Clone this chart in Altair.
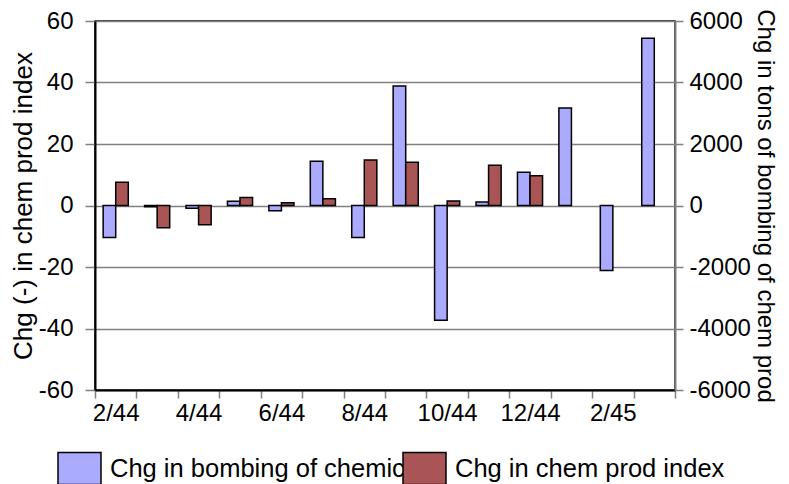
import altair as alt
import pandas as pd

months = ["2/44", "3/44", "4/44", "5/44", "6/44", "7/44", "8/44", "9/44",
          "10/44", "11/44", "12/44", "1/45", "2/45", "3/45"]
shown_labels = ["2/44", "4/44", "6/44", "8/44", "10/44", "12/44", "2/45"]
bombing_tons = [-1040, -40, -90, 140, -170, 1440, -1040, 3890,
                -3730, 110, 1080, 3170, -2110, 5440]
chem_index = [7.6, -7.2, -6.3, 2.6, 0.9, 2.2, 14.8, 14.1,
              1.5, 13.1, 9.7, None, None, None]

s_bomb = "Chg in bombing of chemicals"
s_chem = "Chg in chem prod index"
series = [s_bomb, s_chem]
colors = ["#AAAAFF", "#AA5555"]
left_ticks = [-60, -40, -20, 0, 20, 40, 60]
right_ticks = [-6000, -4000, -2000, 0, 2000, 4000, 6000]

rows = []
for m, v in zip(months, bombing_tons):
    rows.append({"month": m, "series": s_bomb, "value": v})
for m, v in zip(months, chem_index):
    if v is not None:
        rows.append({"month": m, "series": s_chem, "value": v})
df = pd.DataFrame(rows)

FONT = "Liberation Sans"
label_list = "[" + ",".join("'" + s + "'" for s in shown_labels) + "]"
RECT = "M-1,-0.74H1V0.74H-1Z"

x_enc = alt.X(
    "month:N", sort=months,
    scale=alt.Scale(paddingInner=0, paddingOuter=0),
    axis=alt.Axis(
        title=None, labelAngle=0, tickBand="extent",
        labelExpr="indexof(" + label_list + ", datum.value) >= 0 ? datum.value : ''",
        labelFont=FONT, labelFontSize=24, labelColor="black", labelPadding=3,
        tickSize=8, tickColor="#808080", tickWidth=1.5,
        domainColor="black", domainWidth=2, grid=False,
    ),
)
xoff = alt.XOffset("series:N", sort=series,
                   scale=alt.Scale(domain=series, paddingOuter=0.65, paddingInner=0))


def legend_at(x):
    return alt.Legend(
        title=None, orient="none", legendX=x, legendY=425,
        direction="horizontal", symbolType=RECT, symbolSize=1849,
        symbolStrokeColor="black", symbolStrokeWidth=1.5,
        labelFont=FONT, labelFontSize=25.5, labelColor="black",
        labelOffset=8, padding=0, labelLimit=500,
    )


base = alt.Chart(df)

bomb = base.transform_filter(alt.datum.series == s_bomb).mark_bar(
    stroke="black", strokeWidth=1.5
).encode(
    x=x_enc, xOffset=xoff,
    color=alt.Color("series:N", scale=alt.Scale(domain=[s_bomb], range=[colors[0]]),
                    legend=legend_at(-38)),
    y=alt.Y("value:Q",
            scale=alt.Scale(domain=[-6000, 6000], nice=False, zero=False),
            axis=alt.Axis(orient="right", title="Chg in tons of bombing of chem prod",
                          values=right_ticks, grid=False, labelExpr="'' + datum.value",
                          labelFont=FONT, labelFontSize=24, labelColor="black",
                          labelPadding=6, tickSize=8, tickColor="#808080", tickWidth=1.5,
                          domainColor="#808080", domainWidth=2,
                          titleFont=FONT, titleFontSize=24, titleFontWeight="normal",
                          titleColor="black", titlePadding=2)),
)

chem = base.transform_filter(alt.datum.series == s_chem).mark_bar(
    stroke="black", strokeWidth=1.5
).encode(
    x=x_enc, xOffset=xoff,
    color=alt.Color("series:N", scale=alt.Scale(domain=[s_chem], range=[colors[1]]),
                    legend=legend_at(307)),
    y=alt.Y("value:Q",
            scale=alt.Scale(domain=[-60, 60], nice=False, zero=False),
            axis=alt.Axis(orient="left", title="Chg (-) in chem prod index",
                          values=left_ticks, grid=True, gridColor="#808080", gridWidth=1.5,
                          labelExpr="'' + datum.value",
                          labelFont=FONT, labelFontSize=24, labelColor="black",
                          labelPadding=12, tickSize=10, tickColor="#808080", tickWidth=1.5,
                          domainColor="black", domainWidth=2,
                          titleFont=FONT, titleFontSize=26, titleFontWeight="normal",
                          titleColor="black", titlePadding=2)),
)

chart = alt.layer(bomb, chem).resolve_scale(y="independent", color="independent").properties(
    width=580, height=369,
    autosize=alt.AutoSizeParams(type="none"),
    padding={"left": 87, "top": 13, "right": 106, "bottom": 94},
).configure_view(stroke="black", strokeWidth=1.5)

chart.save("out.html", embed_options={"renderer": "svg", "actions": False})
